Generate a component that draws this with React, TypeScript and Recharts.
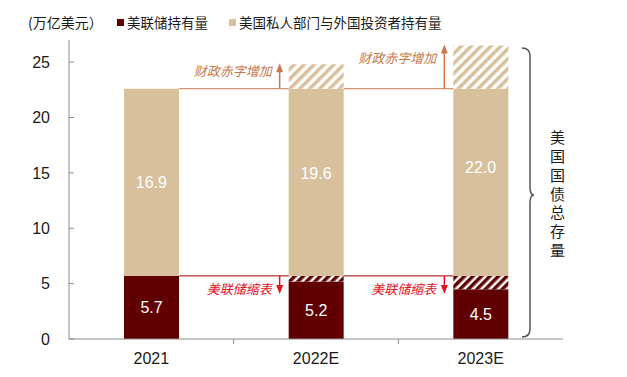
// App.tsx
import { BarChart, Bar, XAxis, YAxis, LabelList, ReferenceDot } from 'recharts';

const years = ['2021', '2022E', '2023E'];
const fedHeld = [5.7, 5.2, 4.5];
const fedRunoff = [0, 0.5, 1.2];
const privBase = [16.9, 16.9, 16.9];
const deficitAdd = [0, 2.2, 3.9];
const privHeld = [16.9, 19.6, 22.0];
const yTicks = [0, 5, 10, 15, 20, 25];

const legendItems = [
  { name: '美联储持有量', color: '#600000' },
  { name: '美国私人部门与外国投资者持有量', color: '#d8c09d' },
];

const DARK = '#600000';
const TAN = '#d8c09d';
const BROWN = '#c8794a';
const RED = '#e3141e';
const CJK = '"Noto Sans CJK SC", "Liberation Sans", sans-serif';
const NUM = '"Liberation Sans", Arial, sans-serif';

const W = 627;
const H = 377;
const M = { top: 40, right: 64, bottom: 8, left: 0 };
const Y_W = 69;
const BAR = 55;
// space between two neighbouring bars
const GAP = (W - M.right - M.left - Y_W) / years.length - BAR;

const data = years.map((year, i) => ({
  year,
  fedHeld: fedHeld[i],
  fedRunoff: fedRunoff[i],
  privBase: privBase[i],
  deficitAdd: deficitAdd[i],
  privMid: (fedHeld[i] + fedHeld[i] + privHeld[i]) / 2,
}));

const DeficitNote = (p: any) => {
  const { x, y, height, value } = p;
  if (!value) return null;
  const ax = x - 9;
  const bottom = y + height;
  return (
    <g>
      <line x1={x - GAP} y1={bottom} x2={x} y2={bottom} stroke={BROWN} strokeWidth={1} />
      <line x1={ax} y1={bottom} x2={ax} y2={y + 6} stroke={BROWN} strokeWidth={1.5} />
      <polygon points={`${ax - 3.5},${y + 8} ${ax + 3.5},${y + 8} ${ax},${y - 1}`} fill={BROWN} />
      <text x={ax - 8} y={y + height * 0.3} dy="0.35em" textAnchor="end" fill={BROWN}
        fontSize={13} fontStyle="italic" fontFamily={CJK}>财政赤字增加</text>
    </g>
  );
};

const RunoffNote = (p: any) => {
  const { x, y, value } = p;
  if (!value) return null;
  const ax = x - 9;
  return (
    <g>
      <line x1={x - GAP} y1={y} x2={x} y2={y} stroke="#a00000" strokeWidth={1} />
      <line x1={ax} y1={y} x2={ax} y2={y + 11} stroke={RED} strokeWidth={1.5} />
      <polygon points={`${ax - 3.5},${y + 9} ${ax + 3.5},${y + 9} ${ax},${y + 18}`} fill={RED} />
      <text x={ax - 8} y={y + 14} dy="0.35em" textAnchor="end" fill={RED}
        fontSize={13} fontStyle="italic" fontFamily={CJK}>美联储缩表</text>
    </g>
  );
};

const XTick = (p: any) => {
  const { x, y, payload, index } = p;
  const off = payload && payload.offset ? payload.offset : 0;
  return (
    <g>
      <text x={x} y={y} dy="0.71em" textAnchor="middle" fill="#1a1a1a" fontSize={16} fontFamily={NUM}>
        {payload.value}
      </text>
      {index < years.length - 1 && off > 0 && (
        <line x1={x + off} y1={y - 14} x2={x + off} y2={y - 9} stroke="#8c8c8c" />
      )}
    </g>
  );
};

export default function App() {
  return (
    <div style={{ position: 'absolute', left: 0, top: 0, width: W, height: H, background: '#fff' }}>
      <div style={{ position: 'absolute', left: 28, top: 12, fontFamily: CJK, fontSize: 14, lineHeight: '20px', color: '#1a1a1a' }}>
        (万亿美元）
      </div>
      <div style={{ position: 'absolute', left: 117, top: 12, display: 'flex', fontFamily: CJK, fontSize: 13.5, lineHeight: '20px', color: '#1a1a1a' }}>
        {legendItems.map((it, i) => (
          <div key={it.name} style={{ display: 'flex', alignItems: 'center', marginRight: i === 0 ? 21 : 0 }}>
            <span style={{ width: 7, height: 7, background: it.color, marginRight: 3, display: 'inline-block' }} />
            <span>{it.name}</span>
          </div>
        ))}
      </div>
      <BarChart width={W} height={H} data={data} margin={M}>
        <defs>
          <pattern id="hatchTan" patternUnits="userSpaceOnUse" width={7} height={7} patternTransform="rotate(45)">
            <rect width={7} height={7} fill="#fff" />
            <rect width={3.5} height={7} fill={TAN} />
          </pattern>
          <pattern id="hatchDark" patternUnits="userSpaceOnUse" width={6} height={6} patternTransform="rotate(45)">
            <rect width={6} height={6} fill="#fff" />
            <rect width={3.5} height={6} fill={DARK} />
          </pattern>
        </defs>
        <XAxis dataKey="year" height={30} axisLine={{ stroke: '#8c8c8c' }} tickLine={false}
          tickSize={6} tickMargin={8} tick={<XTick />} interval={0} />
        <YAxis width={Y_W} domain={[0, 27]} ticks={yTicks} axisLine={{ stroke: '#8c8c8c' }}
          tickLine={{ stroke: '#8c8c8c' }} tickSize={-5} tickMargin={24}
          tick={{ fill: '#1a1a1a', fontSize: 16, fontFamily: NUM }} />
        <Bar dataKey="fedHeld" stackId="a" fill={DARK} barSize={BAR} isAnimationActive={false}>
          <LabelList dataKey="fedHeld" position="center" fill="#fff" fontSize={16} fontFamily={NUM}
            formatter={(v: any) => Number(v).toFixed(1)} />
        </Bar>
        <Bar dataKey="fedRunoff" stackId="a" fill="url(#hatchDark)" barSize={BAR} isAnimationActive={false}>
          <LabelList dataKey="fedRunoff" content={<RunoffNote />} />
        </Bar>
        <Bar dataKey="privBase" stackId="a" fill={TAN} barSize={BAR} isAnimationActive={false} />
        <Bar dataKey="deficitAdd" stackId="a" fill="url(#hatchTan)" barSize={BAR} isAnimationActive={false}>
          <LabelList dataKey="deficitAdd" content={<DeficitNote />} />
        </Bar>
        {data.map((d, i) => (
          <ReferenceDot key={d.year} x={d.year} y={d.privMid} r={0} stroke="none" fill="none"
            label={{ value: privHeld[i].toFixed(1), fill: '#fff', fontSize: 16, fontFamily: NUM, position: 'center' }} />
        ))}
      </BarChart>
      <svg style={{ position: 'absolute', left: 0, top: 0, pointerEvents: 'none' }} width={W} height={H}>
        <path d="M522,48 Q530,48 530,56 L530,187 Q530,195 534,195 Q530,195 530,203 L530,329 Q530,337 522,337"
          fill="none" stroke="#555" strokeWidth={1.5} />
      </svg>
      <div style={{ position: 'absolute', left: 548, top: 130, fontFamily: CJK, fontSize: 15,
        lineHeight: '18px', letterSpacing: '3.8px', color: '#1a1a1a', writingMode: 'vertical-rl' }}>
        美国国债总存量
      </div>
    </div>
  );
}
